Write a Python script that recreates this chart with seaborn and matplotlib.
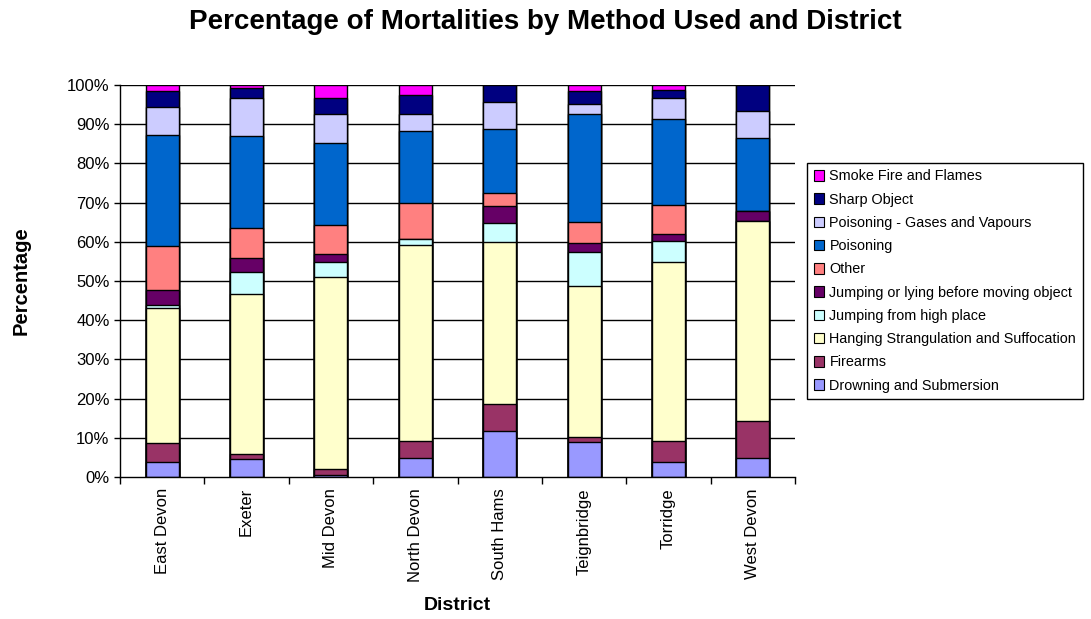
import matplotlib
matplotlib.use("Agg")
import matplotlib.pyplot as plt
import seaborn as sns
import pandas as pd
import numpy as np
from matplotlib.patches import Patch
from matplotlib.ticker import FixedLocator, PercentFormatter

districts = ["East Devon", "Exeter", "Mid Devon", "North Devon", "South Hams",
             "Teignbridge", "Torridge", "West Devon"]

methods = ["Drowning and Submersion", "Firearms", "Hanging Strangulation and Suffocation",
           "Jumping from high place", "Jumping or lying before moving object", "Other",
           "Poisoning", "Poisoning - Gases and Vapours", "Sharp Object", "Smoke Fire and Flames"]

drowning = [3.8, 4.5, 0.5, 4.8, 11.7, 8.9, 3.8, 4.8]
firearms = [4.8, 1.3, 1.6, 4.4, 7.0, 1.3, 5.4, 9.4]
hanging = [34.5, 41.0, 48.9, 50.1, 41.3, 38.5, 45.7, 51.2]
jump_high = [0.9, 5.5, 3.9, 1.5, 4.7, 8.7, 5.3, 0.0]
jump_moving = [3.8, 3.6, 1.9, 0.0, 4.5, 2.3, 1.8, 2.4]
other = [11.2, 7.5, 7.6, 9.0, 3.3, 5.4, 7.3, 0.0]
poisoning = [28.2, 23.6, 20.7, 18.5, 16.3, 27.4, 21.9, 18.6]
gases = [7.3, 9.8, 7.4, 4.3, 6.8, 2.7, 5.4, 7.0]
sharp = [4.0, 2.4, 4.1, 4.8, 4.4, 3.3, 2.0, 6.6]
smoke = [1.5, 0.8, 3.4, 2.6, 0.0, 1.5, 1.4, 0.0]

colors = ["#9999FF", "#993366", "#FFFFCC", "#CCFFFF", "#660066", "#FF8080",
          "#0066CC", "#CCCCFF", "#000080", "#FF00FF"]

series = [drowning, firearms, hanging, jump_high, jump_moving, other,
          poisoning, gases, sharp, smoke]

df = pd.DataFrame({m: v for m, v in zip(methods, series)}, index=districts)
shares = df.div(df.sum(axis=1), axis=0) * 100
cum = shares.cumsum(axis=1)

sns.set_style("white")
plt.rcParams["font.family"] = ["Liberation Sans", "DejaVu Sans"]
plt.rcParams["text.color"] = "black"
plt.rcParams["axes.labelcolor"] = "black"
plt.rcParams["xtick.color"] = "black"
plt.rcParams["ytick.color"] = "black"

fig = plt.figure(figsize=(10.91, 6.19), dpi=100)
ax = fig.add_axes([120 / 1091, 1 - 477 / 619, (795 - 120) / 1091, (477 - 85) / 619])

for y in range(10, 101, 10):
    ax.axhline(y, color="black", lw=1.0, zorder=0)

for m, c in reversed(list(zip(methods, colors))):
    sns.barplot(x=districts, y=cum[m].values, color=c, width=0.39,
                edgecolor="black", linewidth=1.0, saturation=1, ax=ax, zorder=2)

ax.set_ylim(0, 100)
ax.set_xlim(-0.5, len(districts) - 0.5)
ax.yaxis.set_major_formatter(PercentFormatter(decimals=0))
ax.set_yticks(range(0, 101, 10))
ax.tick_params(axis="y", which="major", direction="out", length=4, width=1,
               labelsize=12, left=True, color="black", labelcolor="black")
ax.tick_params(axis="x", which="major", length=0, labelsize=12, pad=8,
               labelcolor="black")
ax.xaxis.set_minor_locator(FixedLocator(np.arange(-0.5, len(districts), 1.0)))
ax.tick_params(axis="x", which="minor", direction="out", length=5, width=1,
               bottom=True, color="black")
for lbl in ax.get_xticklabels():
    lbl.set_rotation(90)

for side in ["top", "right"]:
    ax.spines[side].set_visible(False)
for side in ["left", "bottom"]:
    ax.spines[side].set_color("black")
    ax.spines[side].set_linewidth(1.0)

ax.set_ylabel("Percentage", fontsize=14.5, fontweight="bold", labelpad=26,
              color="black")
ax.set_xlabel("District", fontsize=14, fontweight="bold", labelpad=11,
              color="black")

fig.suptitle("Percentage of Mortalities by Method Used and District",
             fontsize=20, fontweight="bold", x=0.5, y=0.985, color="black")

handles = [Patch(facecolor=c, edgecolor="black", linewidth=0.8, label=m)
           for m, c in zip(methods, colors)][::-1]
leg = fig.legend(handles=handles, loc="upper left",
                 bbox_to_anchor=(807 / 1091, 1 - 163 / 619),
                 fontsize=10.4, frameon=True, fancybox=False, framealpha=1,
                 edgecolor="black", handlelength=0.75, handleheight=0.75,
                 handletextpad=0.35, labelspacing=0.64, borderpad=0.45,
                 borderaxespad=0)
leg.get_frame().set_linewidth(1.0)
for t in leg.get_texts():
    t.set_color("black")

fig.savefig("out.png", dpi=100, facecolor="white")
